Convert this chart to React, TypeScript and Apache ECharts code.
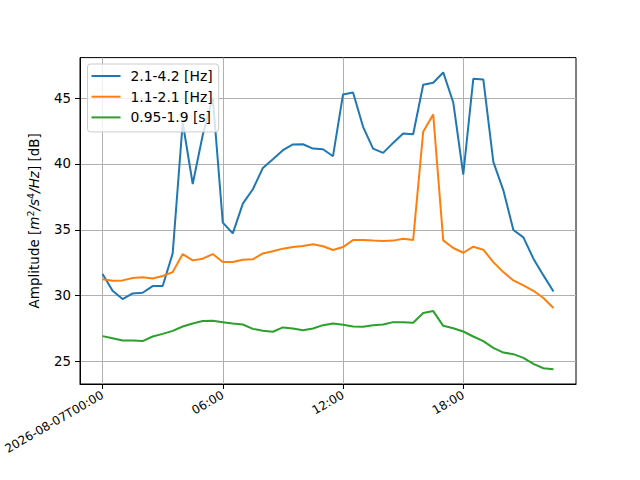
import React, { useEffect, useRef } from "react";
import * as echarts from "echarts";

const hours = [
  0, 0.5, 1, 1.5, 2, 2.5, 3, 3.5, 4, 4.5, 5, 5.5, 6, 6.5, 7, 7.5, 8, 8.5, 9, 9.5,
  10, 10.5, 11, 11.5, 12, 12.5, 13, 13.5, 14, 14.5, 15, 15.5, 16, 16.5, 17, 17.5,
  18, 18.5, 19, 19.5, 20, 20.5, 21, 21.5, 22, 22.5,
];

const seriesNames = ["2.1-4.2 [Hz]", "1.1-2.1 [Hz]", "0.95-1.9 [s]"];

const blue = [
  31.64, 30.37, 29.74, 30.17, 30.22, 30.73, 30.73, 33.21, 43.15, 38.48,
  42.2, 45.05, 35.55, 34.73, 36.99, 38.08, 39.7, 40.36, 41.05, 41.48,
  41.5, 41.17, 41.12, 40.59, 45.28, 45.43, 42.82, 41.17, 40.84, 41.6,
  42.31, 42.26, 46.01, 46.17, 46.95, 44.67, 39.2, 46.47, 46.42, 40.16,
  38.0, 34.99, 34.43, 32.81, 31.54, 30.32,
];

const orange = [
  31.24, 31.13, 31.16, 31.34, 31.39, 31.31, 31.49, 31.79, 33.16, 32.68,
  32.81, 33.16, 32.55, 32.55, 32.73, 32.76, 33.21, 33.37, 33.57, 33.69,
  33.77, 33.9, 33.75, 33.47, 33.69, 34.23, 34.23, 34.18, 34.15, 34.18,
  34.33, 34.23, 42.44, 43.76, 34.2, 33.62, 33.26, 33.72, 33.49, 32.55,
  31.79, 31.16, 30.78, 30.37, 29.82, 29.06,
];

const green = [
  26.93, 26.77, 26.6, 26.6, 26.55, 26.9, 27.1, 27.33, 27.66, 27.89,
  28.07, 28.09, 27.99, 27.89, 27.81, 27.48, 27.33, 27.26, 27.59, 27.51,
  27.38, 27.51, 27.76, 27.89, 27.79, 27.66, 27.64, 27.76, 27.81, 27.99,
  27.99, 27.94, 28.68, 28.83, 27.71, 27.53, 27.28, 26.9, 26.55, 26.04,
  25.68, 25.56, 25.28, 24.82, 24.49, 24.42,
];

const xTickValues = [0, 6, 12, 18];
const xTickLabels = ["2026-08-07T00:00", "06:00", "12:00", "18:00"];
const yTickValues = [25, 30, 35, 40, 45];

const colors = ["#1f77b4", "#ff7f0e", "#2ca02c"];
const FONT = "DejaVu Sans";
const FS = 13.9;

export default function App() {
  const ref = useRef<HTMLDivElement>(null);

  useEffect(() => {
    if (!ref.current) return;
    const chart = echarts.init(ref.current, undefined, { renderer: "svg" });
    const allVals = [...blue, ...orange, ...green];
    const vmin = Math.min(...allVals);
    const vmax = Math.max(...allVals);
    const ypad = (vmax - vmin) * 0.05;
    const xmin = hours[0];
    const xmax = hours[hours.length - 1];
    const xpad = (xmax - xmin) * 0.05;
    const datasets = [blue, orange, green];

    chart.setOption({
      animation: false,
      backgroundColor: "#ffffff",
      textStyle: { fontFamily: FONT },
      grid: {
        left: 80,
        right: 64,
        top: 57.6,
        bottom: 96,
        show: true,
        borderColor: "#000000",
        borderWidth: 1,
        backgroundColor: "transparent",
      },
      legend: {
        show: true,
        left: 87.5,
        top: 64,
        orient: "vertical",
        data: seriesNames,
        icon: "rect",
        itemWidth: 29,
        itemHeight: 2,
        itemGap: 3.7,
        padding: [3.5, 6, 6, 4],
        backgroundColor: "rgba(255,255,255,0.8)",
        borderColor: "#cccccc",
        borderWidth: 1,
        borderRadius: 3,
        textStyle: {
          fontFamily: FONT,
          fontSize: FS,
          color: "#000000",
          lineHeight: 17,
          padding: [0, 0, 0, 5],
        },
      },
      xAxis: {
        type: "value",
        min: xmin - xpad,
        max: xmax + xpad,
        axisLine: { show: true, onZero: false, lineStyle: { color: "#000", width: 1 } },
        axisTick: {
          show: true,
          length: 5,
          customValues: xTickValues,
          lineStyle: { color: "#000", width: 1 },
        },
        axisLabel: {
          customValues: xTickValues,
          rotate: 30,
          margin: 10,
          fontFamily: FONT,
          fontSize: 12,
          color: "#000",
          formatter: (v: number) => {
            const i = xTickValues.indexOf(Math.round(v));
            return i >= 0 ? xTickLabels[i] : "";
          },
        },
        splitLine: { show: true, lineStyle: { color: "#b0b0b0", width: 1 } },
      },
      yAxis: {
        type: "value",
        min: vmin - ypad,
        max: vmax + ypad,
        axisLine: { show: true, onZero: false, lineStyle: { color: "#000", width: 1 } },
        axisTick: {
          show: true,
          length: 5,
          customValues: yTickValues,
          lineStyle: { color: "#000", width: 1 },
        },
        axisLabel: {
          customValues: yTickValues,
          margin: 9,
          fontFamily: FONT,
          fontSize: 13.33,
          color: "#000",
        },
        splitLine: { show: true, lineStyle: { color: "#b0b0b0", width: 1 } },
        name: "Amplitude [{i|m}{s|2}{i|/s}{s|4}{i|/Hz}] [dB]",
        nameLocation: "middle",
        nameGap: 37,
        nameTextStyle: {
          fontFamily: FONT,
          fontSize: 13.5,
          color: "#000",
          lineHeight: 18,
          rich: {
            i: { fontFamily: FONT, fontSize: 13.5, fontStyle: "italic", color: "#000", lineHeight: 18 },
            s: { fontFamily: FONT, fontSize: 9.5, color: "#000", verticalAlign: "top", lineHeight: 18, padding: [0, 0, 4, 0] },
          },
        },
      },
      series: datasets.map((d, si) => ({
        name: seriesNames[si],
        type: "line",
        data: d.map((v, k) => [hours[k], v]),
        showSymbol: false,
        symbol: "none",
        color: colors[si],
        lineStyle: { color: colors[si], width: 2 },
        itemStyle: { color: colors[si] },
        z: 3 + si,
      })),
    });

    return () => chart.dispose();
  }, []);

  return (
    <div
      ref={ref}
      style={{ position: "fixed", left: 0, top: 0, width: 640, height: 480 }}
    />
  );
}
